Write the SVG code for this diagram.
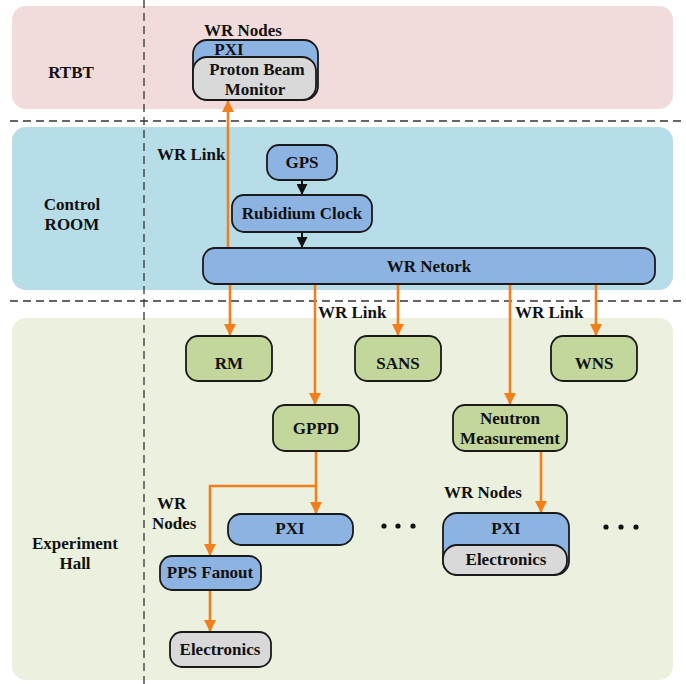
<svg xmlns="http://www.w3.org/2000/svg" width="686" height="684" viewBox="0 0 686 684">
<defs>
<style>
text{font-family:"Liberation Serif","Times New Roman",serif;font-weight:bold;font-size:17px;fill:#111;text-anchor:middle}
.lbl{text-anchor:start}
.blue{fill:#8db3e2;stroke:#1a1a1a;stroke-width:1.8}
.green{fill:#c3d69b;stroke:#1a1a1a;stroke-width:1.8}
.gray{fill:#d9d9d9;stroke:#1a1a1a;stroke-width:1.8}
.dash{stroke:#333;stroke-width:1.3;stroke-dasharray:8 5;fill:none}
.or{stroke:#f07f1c;stroke-width:2.6;fill:none}
.bk{stroke:#111;stroke-width:2;fill:none}
</style>
<marker id="ao" markerUnits="userSpaceOnUse" markerWidth="12" markerHeight="12" viewBox="0 0 12 12" refX="12" refY="6" orient="auto"><path d="M0,0 L12,6 L0,12 z" fill="#f07f1c"/></marker>
<marker id="ab" markerUnits="userSpaceOnUse" markerWidth="11" markerHeight="11" viewBox="0 0 12 12" refX="12" refY="6" orient="auto"><path d="M0,0 L12,6 L0,12 z" fill="#111"/></marker>
</defs>
<rect width="686" height="684" fill="#fff"/>
<g id="zones">
<rect x="12" y="6" width="661" height="103" rx="14" fill="#f2dcdb"/>
<rect x="12" y="127" width="661" height="163" rx="14" fill="#b7dde8"/>
<rect x="12" y="318" width="661" height="362" rx="14" fill="#ebf1de"/>
<text x="71" y="78">RTBT</text>
<text x="72" y="210">Control</text>
<text x="72" y="230">ROOM</text>
<text x="75" y="549">Experiment</text>
<text x="75" y="569">Hall</text>
</g>
<g id="dividers">
<line class="dash" x1="144" y1="0" x2="144" y2="684"/>
<line class="dash" x1="10" y1="121" x2="684" y2="121"/>
<line class="dash" x1="10" y1="301" x2="684" y2="301"/>
</g>
<g id="connectors">
<line class="or" x1="228" y1="248" x2="228" y2="100" marker-end="url(#ao)"/>
<line class="bk" x1="302" y1="180" x2="302" y2="195" marker-end="url(#ab)"/>
<line class="bk" x1="302" y1="232" x2="302" y2="248" marker-end="url(#ab)"/>
<line class="or" x1="230" y1="284" x2="230" y2="336" marker-end="url(#ao)"/>
<line class="or" x1="315" y1="284" x2="315" y2="405" marker-end="url(#ao)"/>
<line class="or" x1="398" y1="284" x2="398" y2="336" marker-end="url(#ao)"/>
<line class="or" x1="510" y1="284" x2="510" y2="405" marker-end="url(#ao)"/>
<line class="or" x1="596" y1="284" x2="596" y2="336" marker-end="url(#ao)"/>
<line class="or" x1="316" y1="451" x2="316" y2="514" marker-end="url(#ao)"/>
<polyline class="or" points="316,486 210,486 210,556" marker-end="url(#ao)"/>
<line class="or" x1="210" y1="590" x2="210" y2="632" marker-end="url(#ao)"/>
<line class="or" x1="541" y1="451" x2="541" y2="513" marker-end="url(#ao)"/>
</g>
<g id="labels">
<text class="lbl" x="157" y="160">WR Link</text>
<text class="lbl" x="318" y="318">WR Link</text>
<text class="lbl" x="515" y="318">WR Link</text>
<text x="243" y="36">WR Nodes</text>
<text x="483" y="498">WR Nodes</text>
<text class="lbl" x="157" y="509">WR</text>
<text class="lbl" x="152" y="529">Nodes</text>
</g>
<g id="pbm">
<rect class="blue" x="193" y="40" width="125" height="60" rx="14"/>
<rect class="gray" x="193" y="57" width="123" height="43" rx="14"/>
<text x="229" y="55">PXI</text>
<text x="257" y="75">Proton Beam</text>
<text x="255" y="95">Monitor</text>
</g>
<g id="gps"><rect class="blue" x="267" y="145" width="70" height="35" rx="12"/><text x="302" y="168">GPS</text></g>
<g id="rubidium"><rect class="blue" x="232" y="195" width="140" height="37" rx="12"/><text x="302" y="218.5">Rubidium Clock</text></g>
<g id="wrnetwork"><rect class="blue" x="203" y="248" width="452" height="36" rx="12"/><text x="429" y="272">WR Netork</text></g>
<g id="rm"><rect class="green" x="186" y="336" width="86" height="45" rx="12"/><text x="229" y="369">RM</text></g>
<g id="sans"><rect class="green" x="355" y="336" width="86" height="45" rx="12"/><text x="398" y="369">SANS</text></g>
<g id="wns"><rect class="green" x="551" y="336" width="86" height="45" rx="12"/><text x="594" y="369">WNS</text></g>
<g id="gppd"><rect class="green" x="273" y="405" width="86" height="46" rx="12"/><text x="316" y="433.5">GPPD</text></g>
<g id="neutron"><rect class="green" x="453" y="405" width="114" height="46" rx="12"/><text x="510" y="423.5">Neutron</text><text x="510" y="443.5">Measurement</text></g>
<g id="pxi1"><rect class="blue" x="228" y="514" width="125" height="31" rx="13"/><text x="290" y="534">PXI</text></g>
<g id="pxi2">
<rect class="blue" x="443" y="513" width="126" height="62" rx="14"/>
<rect class="gray" x="443" y="545" width="124" height="30" rx="14"/>
<text x="506" y="534">PXI</text>
<text x="506" y="565">Electronics</text>
</g>
<g id="pps"><rect class="blue" x="160" y="556" width="101" height="34" rx="12"/><text x="210" y="578">PPS Fanout</text></g>
<g id="electronics"><rect class="gray" x="170" y="632" width="101" height="35" rx="12"/><text x="220" y="655">Electronics</text></g>
<g id="dots" fill="#111">
<circle cx="384" cy="526" r="2.6"/><circle cx="398" cy="526" r="2.6"/><circle cx="413" cy="526" r="2.6"/>
<circle cx="606" cy="527" r="2.6"/><circle cx="621" cy="527" r="2.6"/><circle cx="636" cy="527" r="2.6"/>
</g>
</svg>
